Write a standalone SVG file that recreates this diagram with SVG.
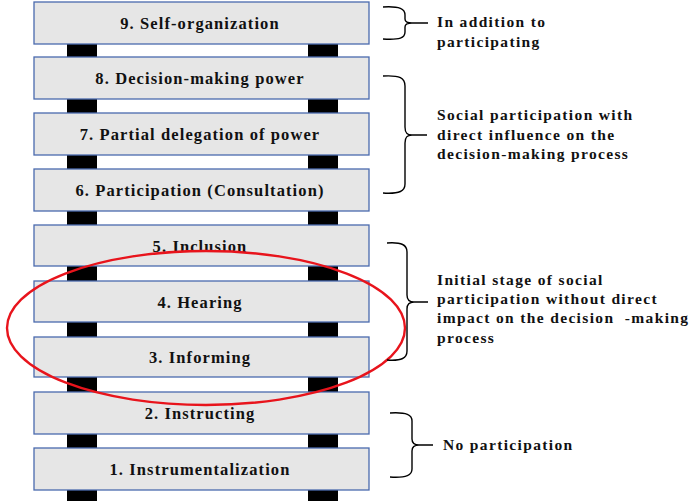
<svg xmlns="http://www.w3.org/2000/svg" width="700" height="501" viewBox="0 0 700 501">
<style>
.rail{fill:#000}
.box rect{fill:#e6e6e6;stroke:#4a6aae;stroke-width:1.3}
.box text{font-family:"Liberation Serif",serif;font-weight:bold;font-size:16.5px;text-anchor:middle;fill:#111;letter-spacing:1.1px}
.lbl{font-family:"Liberation Serif",serif;font-weight:bold;font-size:15.5px;fill:#111;letter-spacing:1.35px}
.brace{fill:none;stroke:#000;stroke-width:1.4}
</style>
<rect width="700" height="501" fill="#fff"/>
<g id="rails">
<rect class="rail" x="67" y="44" width="30" height="457"/>
<rect class="rail" x="308" y="44" width="30" height="457"/>
</g>
<g id="n9" class="box"><rect x="34" y="2" width="335" height="42"/><text x="200" y="29">9. Self-organization</text></g>
<g id="n8" class="box"><rect x="34" y="57" width="335" height="42"/><text x="200" y="84">8. Decision-making power</text></g>
<g id="n7" class="box"><rect x="34" y="113" width="335" height="42"/><text x="200" y="140">7. Partial delegation of power</text></g>
<g id="n6" class="box"><rect x="34" y="169" width="335" height="42"/><text x="200" y="196">6. Participation (Consultation)</text></g>
<g id="n5" class="box"><rect x="34" y="225" width="335" height="41"/><text x="200" y="252">5. Inclusion</text></g>
<g id="n4" class="box"><rect x="34" y="281" width="335" height="41"/><text x="200" y="308">4. Hearing</text></g>
<g id="n3" class="box"><rect x="34" y="337" width="335" height="40"/><text x="200" y="363">3. Informing</text></g>
<g id="n2" class="box"><rect x="34" y="392" width="335" height="42"/><text x="200" y="419">2. Instructing</text></g>
<g id="n1" class="box"><rect x="34" y="448" width="335" height="42"/><text x="200" y="475">1. Instrumentalization</text></g>
<g id="highlight">
<ellipse cx="206" cy="328" rx="199" ry="77" fill="none" stroke="#e8141c" stroke-width="2.4"/>
</g>
<g id="connectors">
<path class="brace" d="M383,7 C400,6 405,9 405,15 L405,19 C405,22 407,23 412,23 L428,23 M412,23 C407,23 405,24 405,27 L405,32 C405,38 400,40 383,39"/>
<path class="brace" d="M383,76 C400,75 405,78 405,86 L405,127 C405,133 407,135 412,135 L427,135 M412,135 C407,135 405,137 405,143 L405,184 C405,191 400,194 383,193"/>
<path class="brace" d="M387,243 C402,242 407,245 407,252 L407,295 C407,300 409,302 414,302 L428,302 M414,302 C409,302 407,304 407,309 L407,351 C407,358 402,361 387,360"/>
<path class="brace" d="M390,413 C407,412 412,415 412,421 L412,439 C412,443 414,445 419,445 L433,445 M419,445 C414,445 412,447 412,451 L412,469 C412,475 407,478 390,477"/>
</g>
<g id="labels">
<text class="lbl" x="437" y="27">In addition to</text>
<text class="lbl" x="437" y="47">participating</text>
<text class="lbl" x="437" y="120">Social participation with</text>
<text class="lbl" x="437" y="140">direct influence on the</text>
<text class="lbl" x="437" y="159">decision-making process</text>
<text class="lbl" x="437" y="285">Initial stage of social</text>
<text class="lbl" x="437" y="304">participation without direct</text>
<text class="lbl" x="437" y="323" xml:space="preserve">impact on the decision  -making</text>
<text class="lbl" x="437" y="343">process</text>
<text class="lbl" x="443" y="450">No participation</text>
</g>
</svg>
